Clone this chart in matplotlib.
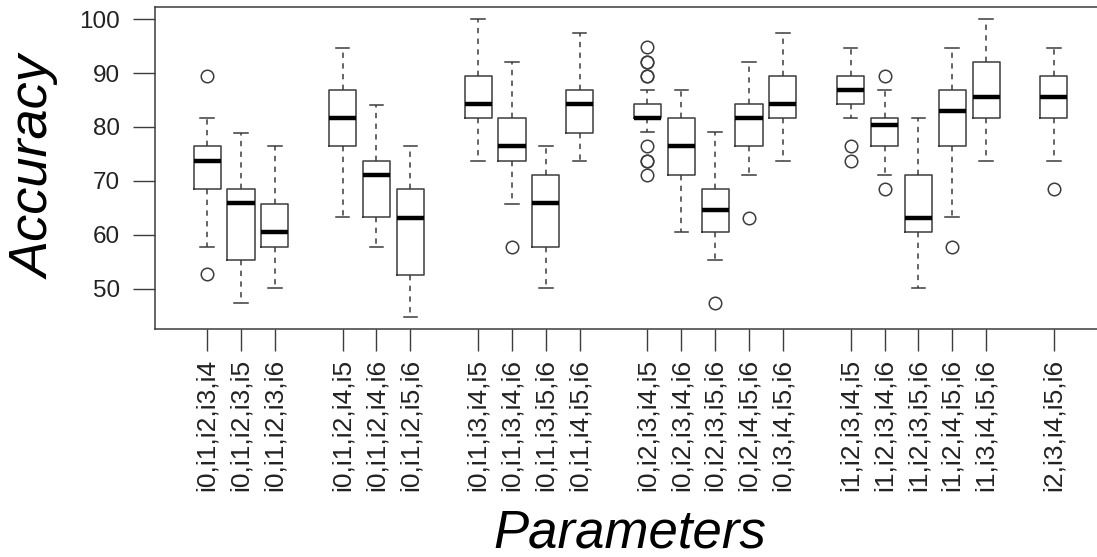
import matplotlib
matplotlib.use("Agg")
import matplotlib.pyplot as plt

plt.rcParams['font.family'] = ['Liberation Sans', 'DejaVu Sans']

labels = ["i0,i1,i2,i3,i4", "i0,i1,i2,i3,i5", "i0,i1,i2,i3,i6",
          "i0,i1,i2,i4,i5", "i0,i1,i2,i4,i6", "i0,i1,i2,i5,i6",
          "i0,i1,i3,i4,i5", "i0,i1,i3,i4,i6", "i0,i1,i3,i5,i6", "i0,i1,i4,i5,i6",
          "i0,i2,i3,i4,i5", "i0,i2,i3,i4,i6", "i0,i2,i3,i5,i6", "i0,i2,i4,i5,i6", "i0,i3,i4,i5,i6",
          "i1,i2,i3,i4,i5", "i1,i2,i3,i4,i6", "i1,i2,i3,i5,i6", "i1,i2,i4,i5,i6", "i1,i3,i4,i5,i6",
          "i2,i3,i4,i5,i6"]
positions = [1, 2, 3, 5, 6, 7, 9, 10, 11, 12, 14, 15, 16, 17, 18, 20, 21, 22, 23, 24, 26]

whislo = [57.8, 47.3, 50.1, 63.2, 57.8, 44.8, 73.7, 65.7, 50.1, 73.7,
          79.0, 60.5, 55.3, 71.1, 73.7, 81.6, 71.1, 50.1, 63.2, 73.7, 73.7]
q1 = [68.5, 55.3, 57.8, 76.4, 63.2, 52.6, 81.6, 73.7, 57.8, 78.8,
      81.6, 71.1, 60.5, 76.4, 81.6, 84.2, 76.4, 60.5, 76.4, 81.6, 81.6]
med = [73.7, 65.9, 60.5, 81.6, 71.1, 63.1, 84.2, 76.4, 65.9, 84.2,
       81.6, 76.4, 64.5, 81.6, 84.2, 86.9, 80.3, 63.1, 82.9, 85.5, 85.5]
q3 = [76.4, 68.5, 65.7, 86.9, 73.7, 68.5, 89.5, 81.6, 71.1, 86.9,
      84.2, 81.6, 68.5, 84.2, 89.5, 89.5, 81.6, 71.1, 86.9, 92.1, 89.5]
whishi = [81.6, 78.8, 76.4, 94.7, 84.1, 76.4, 100.0, 92.1, 76.4, 97.4,
          86.9, 86.9, 79.0, 92.1, 97.4, 94.7, 86.9, 81.6, 94.7, 100.0, 94.7]
fliers = [[89.5, 52.7], [], [], [], [], [], [], [57.8], [], [],
          [94.8, 92.1, 92.1, 89.5, 89.5, 76.4, 73.7, 73.7, 71.0], [], [47.4], [63.1], [],
          [76.4, 73.7], [89.5, 68.5], [], [57.8], [], [68.5]]

stats = []
for i in range(len(labels)):
    stats.append({'whislo': whislo[i], 'q1': q1[i], 'med': med[i], 'q3': q3[i],
                  'whishi': whishi[i], 'fliers': fliers[i], 'label': labels[i]})

lc = '#3c3c3c'
fig = plt.figure(figsize=(10.97, 5.57), dpi=100)
ax = fig.add_axes([155 / 1097, 228.5 / 557, 951 / 1097, 321.2 / 557])

ax.bxp(stats, positions=positions, widths=0.8, capwidths=0.4,
       boxprops=dict(color=lc, linewidth=1.1),
       whiskerprops=dict(color=lc, linewidth=1.1, linestyle=(0, (3.5, 3.5))),
       capprops=dict(color=lc, linewidth=1.1),
       medianprops=dict(color='black', linewidth=3.2, solid_capstyle='butt'),
       flierprops=dict(marker='o', markerfacecolor='none', markeredgecolor=lc,
                       markersize=9, markeredgewidth=1.1, linestyle='none'))

ax.set_xlim(-0.54, 27.54)
ax.set_ylim(42.6, 102.2)
ax.set_yticks([50, 60, 70, 80, 90, 100])
ax.set_xticks(positions)
ax.set_xticklabels(labels, rotation=90, fontsize=19)
ax.tick_params(axis='y', labelsize=17.5, length=16, width=1, color=lc, pad=9, labelcolor='#222222')
ax.tick_params(axis='x', length=16, width=1, color=lc, pad=6, labelcolor='#222222')
for s in ax.spines.values():
    s.set_color(lc)
    s.set_linewidth(1.1)

fig.text(630 / 1097, 1 - 533 / 557, "Parameters", fontsize=38, style='italic',
         ha='center', va='center')
fig.text(36 / 1097, 1 - 168 / 557, "Accuracy", fontsize=39, style='italic',
         rotation=90, ha='center', va='center')

fig.savefig("out.png", dpi=100)
